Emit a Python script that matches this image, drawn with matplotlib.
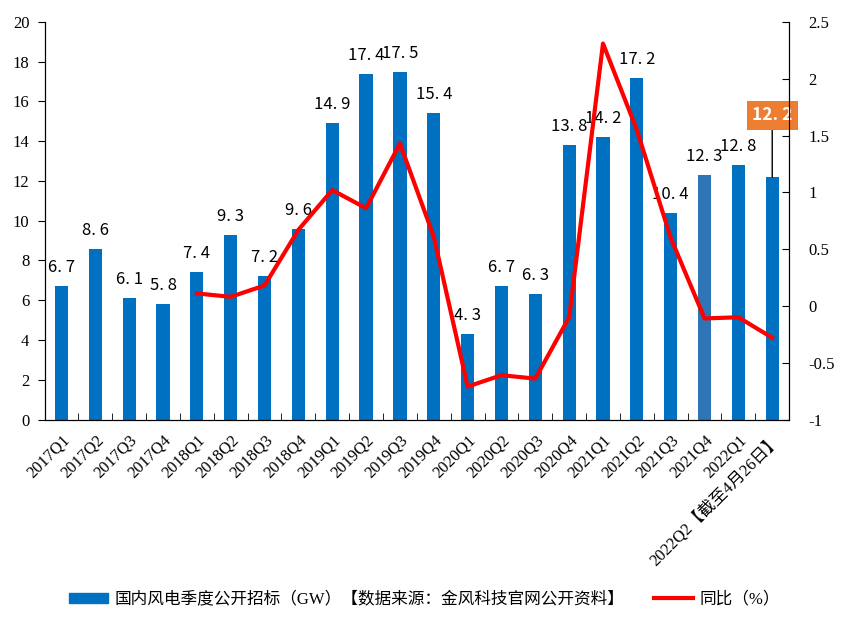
import numpy as np
import matplotlib.pyplot as plt
from matplotlib.lines import Line2D
from matplotlib.patches import Patch

quarters = ['2017Q1', '2017Q2', '2017Q3', '2017Q4', '2018Q1', '2018Q2', '2018Q3', '2018Q4',
            '2019Q1', '2019Q2', '2019Q3', '2019Q4', '2020Q1', '2020Q2', '2020Q3', '2020Q4',
            '2021Q1', '2021Q2', '2021Q3', '2021Q4', '2022Q1', '2022Q2【截至4月26日】']
tenders = [6.7, 8.6, 6.1, 5.8, 7.4, 9.3, 7.2, 9.6, 14.9, 17.4, 17.5, 15.4,
           4.3, 6.7, 6.3, 13.8, 14.2, 17.2, 10.4, 12.3, 12.8, 12.2]
# yoy growth, starts at 2018Q1
yoy = [np.nan] * 4 + [0.11, 0.08, 0.18, 0.67, 1.02, 0.86, 1.43, 0.61,
                      -0.71, -0.61, -0.64, -0.10, 2.31, 1.55, 0.60, -0.11, -0.10, -0.28]

bar_label = '国内风电季度公开招标（GW）【数据来源：金风科技官网公开资料】'
line_label = '同比（%）'

serif = ['Liberation Serif', 'Noto Sans CJK SC']
cjk = ['Noto Sans CJK SC', 'DejaVu Sans']

fig = plt.figure(figsize=(8.49, 6.28), dpi=100)
ax = fig.add_axes([0.0525, 0.332, 0.877, 0.633])
x = np.arange(len(quarters))

colors = ['#0070C0'] * len(x)
colors[19] = '#2E75B6'
ax.bar(x, tenders, width=0.39, color=colors, zorder=2)
ax.set_xlim(-0.5, len(x) - 0.5)
ax.set_ylim(0, 20)
ax.set_yticks(np.arange(0, 21, 2))

for i, v in enumerate(tenders[:-1]):
    ax.text(i, v + 0.5, f'{v:.1f}'.replace('.', '. '), ha='center', va='bottom',
            fontsize=12, family=cjk)

# highlighted last value
last = len(x) - 1
ax.annotate('12. 2', xy=(last, tenders[-1]), xytext=(last, 15.3),
            ha='center', va='center', fontsize=12.5, color='white', fontweight='bold',
            family=cjk,
            bbox=dict(boxstyle='square,pad=0.3', fc='#ED7D31', ec='none'),
            arrowprops=dict(arrowstyle='-', color='black', lw=1, shrinkA=0, shrinkB=0))

ax.set_xticks(x)
ax.set_xticklabels(quarters, rotation=45, ha='right', rotation_mode='anchor',
                   fontsize=12, family=serif)
ax.tick_params(axis='x', length=0, pad=9)
ax.set_xticks(np.arange(0.5, len(x) - 1, 1), minor=True)
ax.tick_params(axis='x', which='minor', direction='in', length=5)
ax.tick_params(axis='y', direction='out', length=5, labelsize=12, pad=6)
for lab in ax.get_yticklabels():
    lab.set_family(serif)
ax.spines['top'].set_visible(False)

ax2 = ax.twinx()
ax2.plot(x, yoy, color='#FF0000', lw=3, zorder=3)
ax2.set_ylim(-1, 2.5)
ax2.set_yticks(np.arange(-1, 2.51, 0.5))
ax2.set_yticklabels(['-1', '-0.5', '0', '0.5', '1', '1.5', '2', '2.5'], family=serif)
ax2.tick_params(axis='y', direction='in', length=5, labelsize=12, pad=14)
ax2.spines['top'].set_visible(False)

handles = [Patch(color='#0070C0'), Line2D([], [], color='#FF0000', lw=3)]
fig.legend(handles, [bar_label, line_label], loc='center', bbox_to_anchor=(0.5, 0.045),
           ncol=2, frameon=False, handlelength=2.3, handleheight=0.5, columnspacing=1.8,
           handletextpad=0.4, prop={'family': serif, 'size': 12})

fig.savefig('out.png', dpi=100)
